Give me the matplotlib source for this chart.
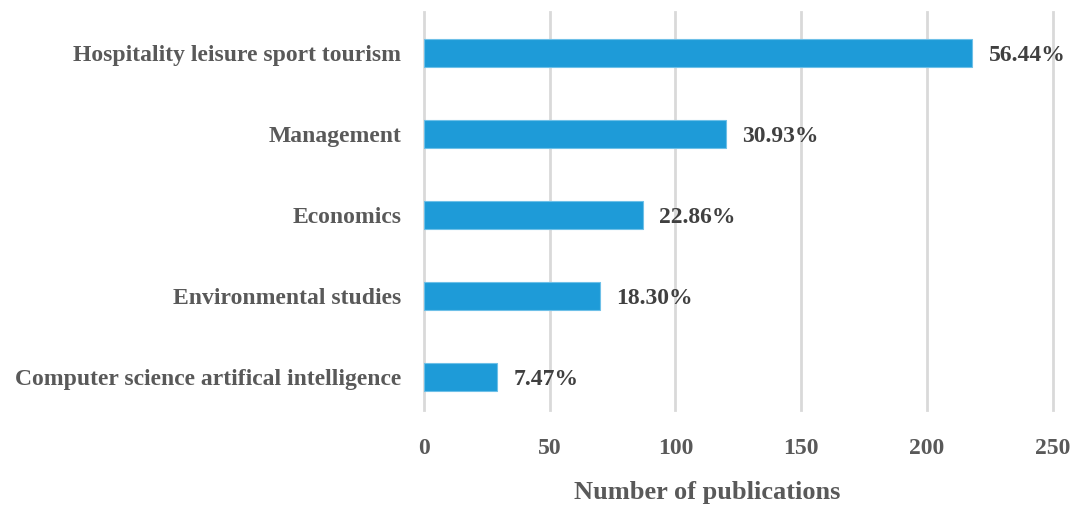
import numpy as np
import matplotlib.pyplot as plt

# categories, bottom to top
categories = ['Computer science artifical intelligence', 'Environmental studies',
              'Economics', 'Management', 'Hospitality leisure sport tourism']
publications = [29, 70, 87, 120, 218]
shares = ['7.47%', '18.30%', '22.86%', '30.93%', '56.44%']
x_ticks = [0, 50, 100, 150, 200, 250]

plt.rcParams['font.family'] = ['Liberation Serif', 'DejaVu Serif']
plt.rcParams['font.weight'] = 'bold'

fig = plt.figure(figsize=(10.7, 5.05), dpi=100)
ax = fig.add_axes([0.396, 0.188, 0.588, 0.788])

y = np.arange(len(categories))
ax.barh(y, publications, height=0.35, color='#1E9BD8', edgecolor='#6EC0E8', linewidth=0.8, zorder=3)

for yi, v, s in zip(y, publications, shares):
    ax.annotate(s, (v, yi), xytext=(12, -2), textcoords='offset points',
                ha='left', va='center', fontsize=17, fontweight='bold', color='#404040')

ax.set_xlim(0, 250)
ax.set_ylim(-0.41, 4.506)
ax.set_xticks(x_ticks)
ax.set_yticks(y)
ax.set_yticklabels(categories, fontsize=17, fontweight='bold', color='#595959')
ax.tick_params(axis='x', labelsize=17, colors='#595959', length=0, pad=20)
ax.tick_params(axis='y', length=0, pad=16)
ax.grid(axis='x', color='#D9D9D9', linewidth=2, zorder=0)
for gl in ax.get_xgridlines():
    gl.set_clip_on(False)
for sp in ax.spines.values():
    sp.set_visible(False)

ax.set_xlabel('Number of publications', fontsize=19, fontweight='bold', color='#595959')
ax.xaxis.set_label_coords(0.45, -0.178)

fig.savefig('out.png', dpi=100)
